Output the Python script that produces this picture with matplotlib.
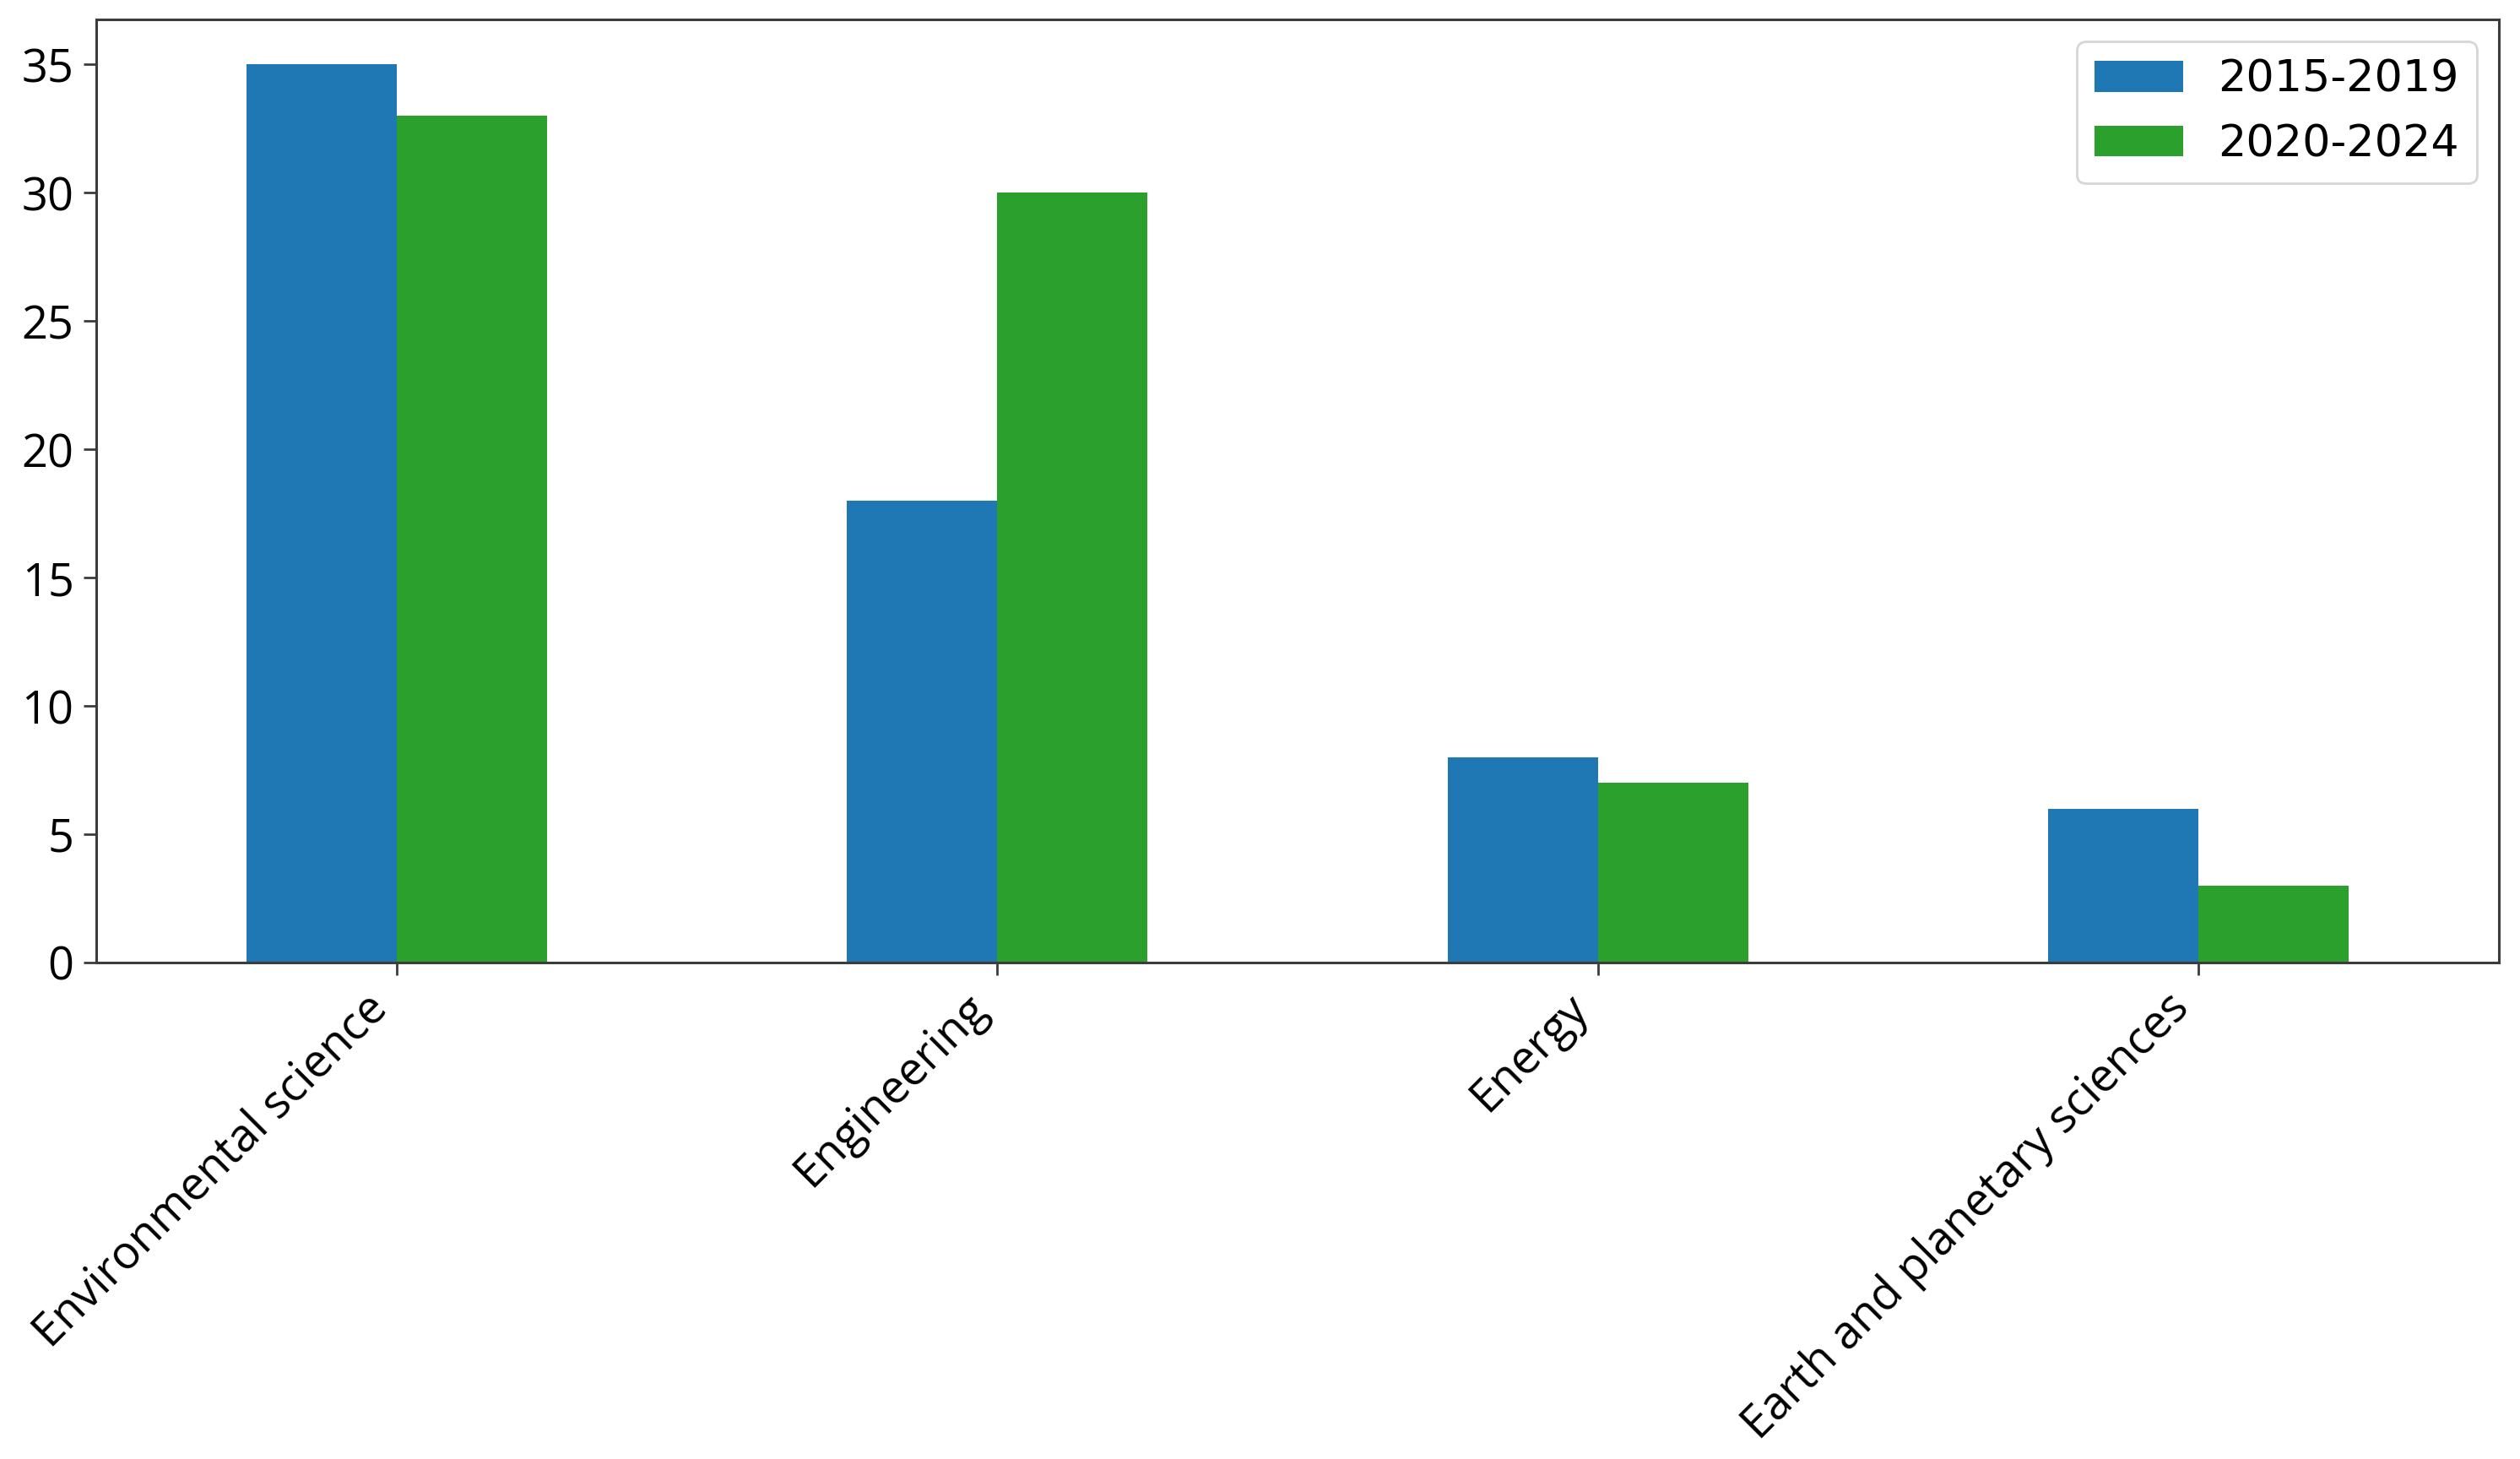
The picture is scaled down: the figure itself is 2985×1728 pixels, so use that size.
import numpy as np
import matplotlib
matplotlib.use("Agg")
import matplotlib.pyplot as plt

categories = ["Environmental science", "Engineering", "Energy", "Earth and planetary sciences"]
series_names = ["2015-2019", "2020-2024"]
vals_2015_2019 = [35, 18, 8, 6]
vals_2020_2024 = [33, 30, 7, 3]
colors = ["#1f77b4", "#2ca02c"]

fig = plt.figure(figsize=(14.925, 8.64), dpi=200)
ax = fig.add_axes([0.0382, 0.3403, 0.9534, 0.6464])

x = np.arange(len(categories))
w = 0.25
ax.bar(x - w / 2, vals_2015_2019, w, color=colors[0], label=series_names[0])
ax.bar(x + w / 2, vals_2020_2024, w, color=colors[1], label=series_names[1])

ax.set_xlim(-0.5, len(categories) - 0.5)
ax.set_ylim(0, 36.75)
ax.set_yticks(range(0, 36, 5))
ax.set_xticks(x)
ax.set_xticklabels(categories, rotation=45, ha="right", family="Open Sans", fontsize=19.5)
for lab in ax.get_yticklabels():
    lab.set_family("Open Sans")
    lab.set_fontsize(19.5)
ax.tick_params(axis="both", length=5.5, width=1.0, color="#3c3c3c", pad=4)

for sp in ax.spines.values():
    sp.set_color("#3c3c3c")
    sp.set_linewidth(1.1)

ax.legend(loc="upper right", fontsize=18.8, frameon=True)

fig.savefig("out.png", dpi=200)
